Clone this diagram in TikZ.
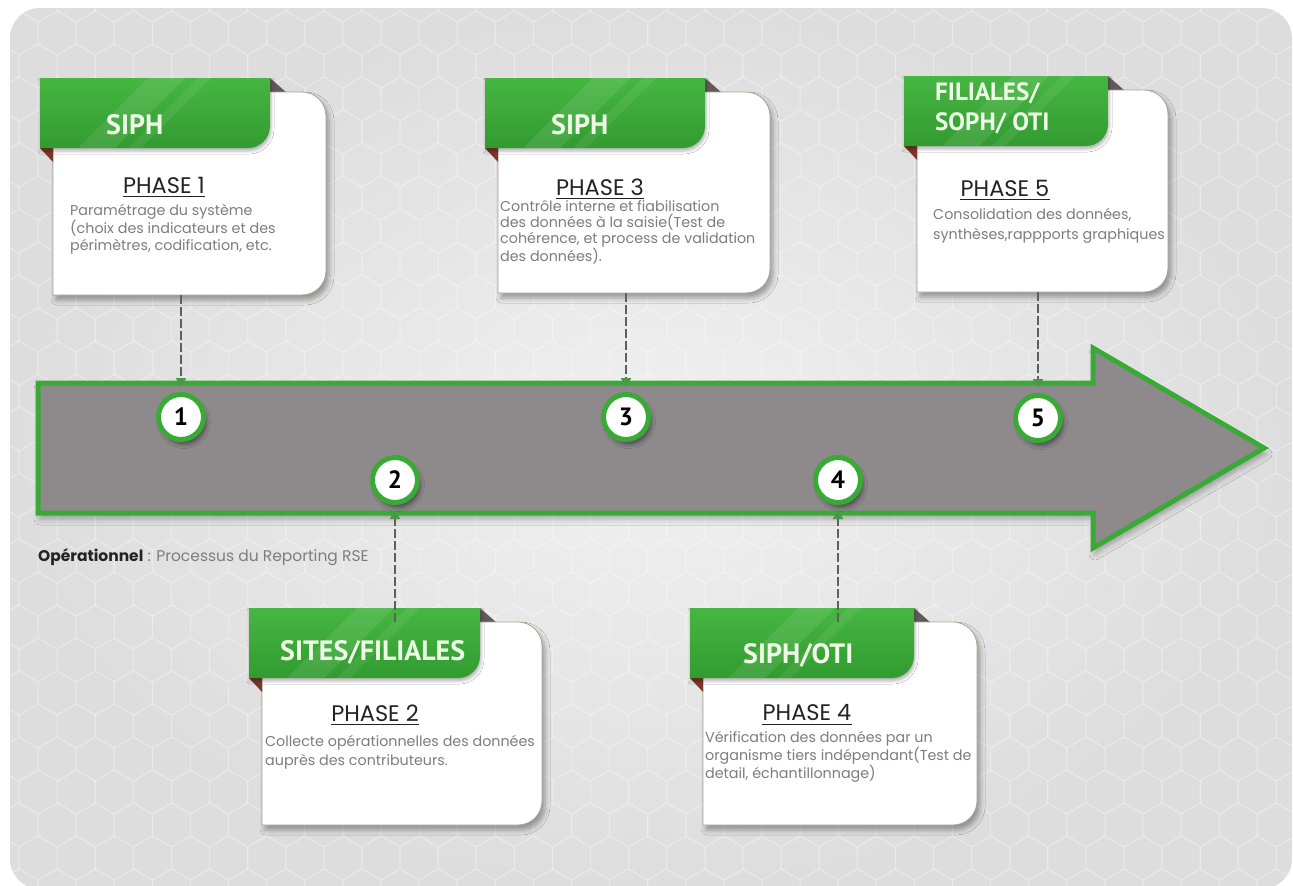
\documentclass[tikz,border=0pt]{standalone}
\usepackage{fontspec}
\setmainfont{Poppins}
\newfontfamily\tabfont{PT Sans}
\usetikzlibrary{arrows.meta,shadows.blur}

\definecolor{bgedge}{RGB}{221,221,221}
\definecolor{bgmid}{RGB}{241,241,241}
\definecolor{leaf}{RGB}{58,170,55}
\definecolor{leaflight}{RGB}{70,182,66}
\definecolor{leafdark}{RGB}{50,155,48}
\definecolor{barfill}{RGB}{142,138,140}
\definecolor{cardline}{RGB}{165,165,140}
\definecolor{foldred}{RGB}{125,55,40}
\definecolor{folddark}{RGB}{100,88,92}
\definecolor{bodygray}{RGB}{125,125,125}
\definecolor{headdark}{RGB}{35,35,35}
\definecolor{dashgray}{RGB}{95,95,95}
\definecolor{tipgreen}{RGB}{75,150,75}
\definecolor{titlewhite}{RGB}{238,250,230}

\tikzset{
  hexline/.style={white, opacity=0.2, line width=1.2pt},
  cardbody/.style={fill=white, draw=cardline, line width=0.8pt,
    blur shadow={shadow xshift=3pt, shadow yshift=-5pt, shadow opacity=35, shadow blur radius=5pt}},
  tabshape/.style={top color=leaflight, bottom color=leafdark, draw=none,
    blur shadow={shadow xshift=1pt, shadow yshift=-3pt, shadow opacity=30, shadow blur radius=3pt}},
  tabtext/.style={anchor=west, inner sep=0pt, text=titlewhite, align=left,
    font=\tabfont\bfseries\fontsize{28}{30}\selectfont},
  phasehead/.style={inner sep=0pt, text=headdark, font=\fontsize{22.5}{24}\selectfont},
  bodytext/.style={anchor=west, inner sep=0pt, text=bodygray, align=left},
  numdot/.style={circle, fill=white, draw=leaf, line width=5pt, minimum size=45pt, inner sep=0pt,
    font=\tabfont\bfseries\fontsize{25}{25}\selectfont,
    blur shadow={shadow xshift=3pt, shadow yshift=-5pt, shadow opacity=45, shadow blur radius=4pt}},
  barshape/.style={fill=barfill, draw=leaf, line width=5pt, line join=miter,
    blur shadow={shadow xshift=2pt, shadow yshift=-6pt, shadow opacity=30, shadow blur radius=6pt}},
  link/.style={dashgray, line width=2pt, dash pattern=on 9pt off 3pt,
    -{Triangle[width=10pt,length=9pt,color=tipgreen]}, shorten >=5pt},
}

% #1 name, #2 left, #3 top, #4 right, #5 bottom, #6 right end of the green tab
\newcommand\phasecard[6]{%
  % fold behind the tab, top right
  \fill[folddark] (#6-10,#3-14) -- (#6,#3-14) -- (#6+17,#3+1) -- (#6-10,#3+1) -- cycle;
  % white card with two rounded corners on the right
  \path[cardbody] (#2,#3) -- (#4-24,#3) arc[start angle=270,end angle=360,radius=24]
    -- (#4,#5-24) arc[start angle=0,end angle=90,radius=24] -- (#2,#5) -- cycle;
  % fold under the tab, bottom left
  \fill[foldred] (#2-13,#3+56) -- (#2,#3+56) -- (#2,#3+70) -- cycle;
  % green tab
  \path[tabshape] (#2-13,#3-14) -- (#6,#3-14) -- (#6,#3+34)
    arc[start angle=0,end angle=90,radius=22] -- (#2-13,#3+56) -- cycle;
  \begin{scope}
    \clip (#2-13,#3-14) -- (#6,#3-14) -- (#6,#3+34)
      arc[start angle=0,end angle=90,radius=22] -- (#2-13,#3+56) -- cycle;
    \fill[white, opacity=0.09] (#2+25,#3+56) -- (#2+62,#3+56) -- (#2+132,#3-14) -- (#2+95,#3-14) -- cycle;
    \fill[white, opacity=0.07] (#2+75,#3+56) -- (#2+88,#3+56) -- (#2+158,#3-14) -- (#2+145,#3-14) -- cycle;
  \end{scope}
  \coordinate (#1n) at ({(#2+#4)/2},#3);
  \coordinate (#1s) at ({(#2+#4)/2},#5);
}

% underlined phase heading
\newcommand\phasetitle[3]{%
  \node[phasehead] (#1) at (#2) {#3};
  \draw[headdark, line width=1.4pt] ([yshift=-3.5pt]#1.base west) -- ([yshift=-3.5pt]#1.base east);
}

\begin{document}
\begin{tikzpicture}[x=1pt,y=-1pt]
\useasboundingbox (0,0) rectangle (1293,886);
\fill[white] (0,0) rectangle (1293,886);
\shade[inner color=bgmid, outer color=bgedge, rounded corners=30pt] (10,8) rectangle (1292,889);

% faint honeycomb texture
\begin{scope}
  \clip[rounded corners=30pt] (10,8) rectangle (1292,889);
  \foreach \row in {0,...,27} {
    \foreach \col in {0,...,34} {
      \pgfmathsetmacro\hx{\col*38.1 + mod(\row,2)*19.05}
      \pgfmathsetmacro\hy{\row*33}
      \draw[hexline] (\hx,\hy) +(30:22) -- +(90:22) -- +(150:22) -- +(210:22)
        -- +(270:22) -- +(330:22) -- cycle;
    }
  }
\end{scope}

% timeline arrow
\path[barshape] (38,383) -- (1093,383) -- (1093,348) -- (1264,448) -- (1093,548)
  -- (1093,513) -- (38,513) -- cycle;

% numbered steps
\node[numdot] (c1) at (181,417) {1};
\node[numdot] (c2) at (395,480) {2};
\node[numdot] (c3) at (626,417) {3};
\node[numdot] (c4) at (838,480) {4};
\node[numdot] (c5) at (1038,418) {5};

% cards
\phasecard{card1}{53}{92}{326}{295}{270}
\phasecard{card3}{498}{92}{770}{293}{705}
\phasecard{card5}{917}{90}{1168}{292}{1108}
\phasecard{card2}{262}{622}{542}{825}{480}
\phasecard{card4}{703}{622}{977}{825}{914}

% connectors from cards to steps
\draw[link] (card1s -| c1.north) -- (c1.north);
\draw[link] (card3s -| c3.north) -- (c3.north);
\draw[link] (card5s -| c5.north) -- (c5.north);
\draw[link] (card2n -| c2.south) -- (c2.south);
\draw[link] (card4n -| c4.south) -- (c4.south);

% tab titles
\node[tabtext] (tab1) at (106,125) {SIPH};
\node[tabtext] (tab3) at (551,125) {SIPH};
\node[tabtext, font=\tabfont\bfseries\fontsize{25}{30}\selectfont] (tab5) at (935,108) {FILIALES/\\SOPH/ OTI};
\node[tabtext] (tab2) at (280,652) {SITES/FILIALES};
\node[tabtext] (tab4) at (743,655) {SIPH/OTI};

% phase headings
\phasetitle{ph1}{164,185}{PHASE 1}
\phasetitle{ph3}{600,187}{PHASE 3}
\phasetitle{ph5}{1005,188}{PHASE 5}
\phasetitle{ph2}{375,713}{PHASE 2}
\phasetitle{ph4}{807,713}{PHASE 4}

% descriptions
\node[bodytext, font=\fontsize{14.3}{17}\selectfont] (d1) at (70,229)
  {Paramétrage du système\\(choix des indicateurs et des\\périmètres, codification, etc.};
\node[bodytext, font=\fontsize{14.3}{16}\selectfont] (d3) at (500,232)
  {Contrôle interne et fiabilisation\\des données à la saisie(Test de\\cohérence, et process de validation\\des données).};
\node[bodytext, font=\fontsize{14.3}{20}\selectfont] (d5) at (933,226)
  {Consolidation des données,\\synthèses,rappports graphiques};
\node[bodytext, font=\fontsize{14.3}{19}\selectfont] (d2) at (265,752)
  {Collecte opérationnelles des données\\auprès des contributeurs.};
\node[bodytext, font=\fontsize{14.3}{17}\selectfont] (d4) at (705,757)
  {Vérification des données par un\\organisme tiers indépendant(Test de\\detail, échantillonnage)};

% caption
\node[anchor=west, inner sep=0pt, text=bodygray, font=\fontsize{15.5}{17}\selectfont] (caption) at (38,557)
  {\textcolor{headdark}{\bfseries Opérationnel} : Processus du Reporting RSE};
\end{tikzpicture}
\end{document}
